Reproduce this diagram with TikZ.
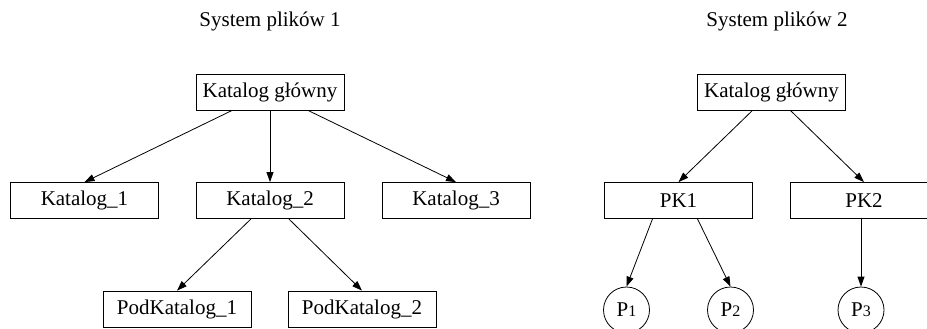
\documentclass[tikz,border=0pt]{standalone}
\usepackage{fontspec}
\setmainfont{Liberation Serif}
\usepackage{tikz}
\usetikzlibrary{arrows.meta, positioning}

\begin{document}
\begin{tikzpicture}[x=1pt, y=-1pt,
        dirbox/.style={draw, line width=0.8pt, minimum width=148pt, minimum height=36pt, inner sep=2pt, font=\fontsize{21}{24}\selectfont},
        filenode/.style={draw, circle, line width=0.8pt, minimum size=46pt, inner sep=0pt, font=\fontsize{21}{24}\selectfont},
        fstitle/.style={anchor=base, font=\fontsize{21}{24}\selectfont},
        edge/.style={line width=0.8pt, -{Triangle[length=10pt, width=7pt]}}]
        \useasboundingbox (0,0) rectangle (927,329);

        % First file system: plain directory tree
        \node[fstitle] (title1) at (270, 27) {System plików 1};
        \node[dirbox] (root1) at (270, 92) {Katalog główny};
        \node[dirbox] (kat1) at (84.5, 200.5) {Katalog\_1};
        \node[dirbox] (kat2) at (270, 200.5) {Katalog\_2};
        \node[dirbox] (kat3) at (456, 200.5) {Katalog\_3};
        \node[dirbox] (pod1) at (177, 309) {PodKatalog\_1};
        \node[dirbox] (pod2) at (362, 309) {PodKatalog\_2};

        \draw[edge] (root1) -- (kat1.north);
        \draw[edge] (root1) -- (kat2.north);
        \draw[edge] (root1) -- (kat3.north);
        \draw[edge] (kat2) -- (pod1.north);
        \draw[edge] (kat2) -- (pod2.north);

        % Second file system: directories holding files
        \node[fstitle] (title2) at (777, 27) {System plików 2};
        \node[dirbox] (root2) at (771.5, 92) {Katalog główny};
        \node[dirbox] (pk1) at (678.5, 200.5) {PK1};
        \node[dirbox] (pk2) at (864, 200.5) {PK2};
        \node[filenode] (p1) at (626.5, 310) {P{\fontsize{16}{16}\selectfont 1}};
        \node[filenode] (p2) at (730.5, 310) {P{\fontsize{16}{16}\selectfont 2}};
        \node[filenode] (p3) at (861, 310) {P{\fontsize{16}{16}\selectfont 3}};

        \draw[edge] (root2) -- (pk1.north);
        \draw[edge] (root2) -- (pk2.north);
        \draw[edge] ([xshift=-26pt]pk1.south) -- (p1.north);
        \draw[edge] ([xshift=19pt]pk1.south) -- (p2.north);
        \draw[edge] (p3 |- pk2.south) -- (p3.north);
\end{tikzpicture}
\end{document}
